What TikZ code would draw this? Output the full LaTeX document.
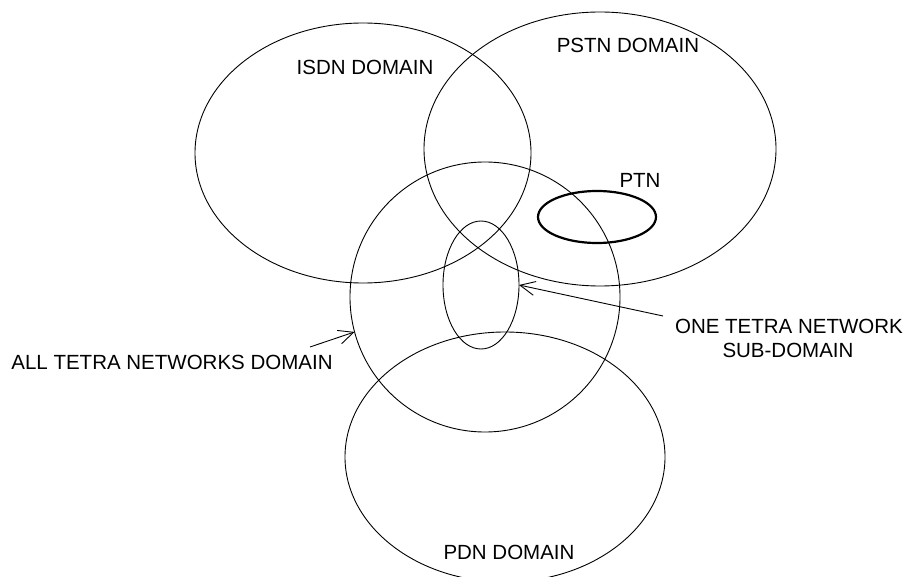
\documentclass[tikz,border=0pt]{standalone}
\usepackage{fontspec}
\setmainfont{Liberation Sans}
\usetikzlibrary{shapes.geometric,arrows.meta}

\begin{document}
\begin{tikzpicture}[x=1pt,y=-1pt,
    dom/.style={draw,ellipse,inner sep=0pt,outer sep=0pt,line width=0.9pt},
    lbl/.style={inner sep=0pt,font=\fontsize{20.5}{24.6}\selectfont},
    ptr/.style={-{Straight Barb[length=15pt,width=14pt]},line width=0.9pt}]
  \useasboundingbox (0,0) rectangle (908,577);
  \clip (0,0) rectangle (908,577);
  % domains
  \node[dom,minimum width=336pt,minimum height=260pt] (isdn) at (363,153) {};
  \node[dom,minimum width=352pt,minimum height=274pt] (pstn) at (600,149) {};
  \node[dom,minimum width=270pt,minimum height=270pt] (tetra) at (485,297) {};
  \node[dom,minimum width=76pt,minimum height=128pt] (onenet) at (481,285) {};
  \node[dom,minimum width=320pt,minimum height=250pt] (pdn) at (505,457) {};
  \node[dom,line width=2.2pt,minimum width=118pt,minimum height=52pt] (ptn) at (597,217) {};
  % labels
  \node[lbl] (isdnlbl) at (365,67) {ISDN DOMAIN};
  \node[lbl] (pstnlbl) at (628,45) {PSTN DOMAIN};
  \node[lbl] (ptnlbl) at (640,180) {PTN};
  \node[lbl] (onelbl) at (789,326) {ONE TETRA NETWORK};
  \node[lbl] (sublbl) at (788,350) {SUB-DOMAIN};
  \node[lbl] (alllbl) at (172,362) {ALL TETRA NETWORKS DOMAIN};
  \node[lbl] (pdnlbl) at (509,552) {PDN DOMAIN};
  % pointers
  \coordinate (alltail) at (310,347);
  \coordinate (onetail) at (663,316);
  \draw[ptr] (alltail) -- (tetra.195);
  \draw[ptr] (onetail) -- (onenet.east);
\end{tikzpicture}
\end{document}
